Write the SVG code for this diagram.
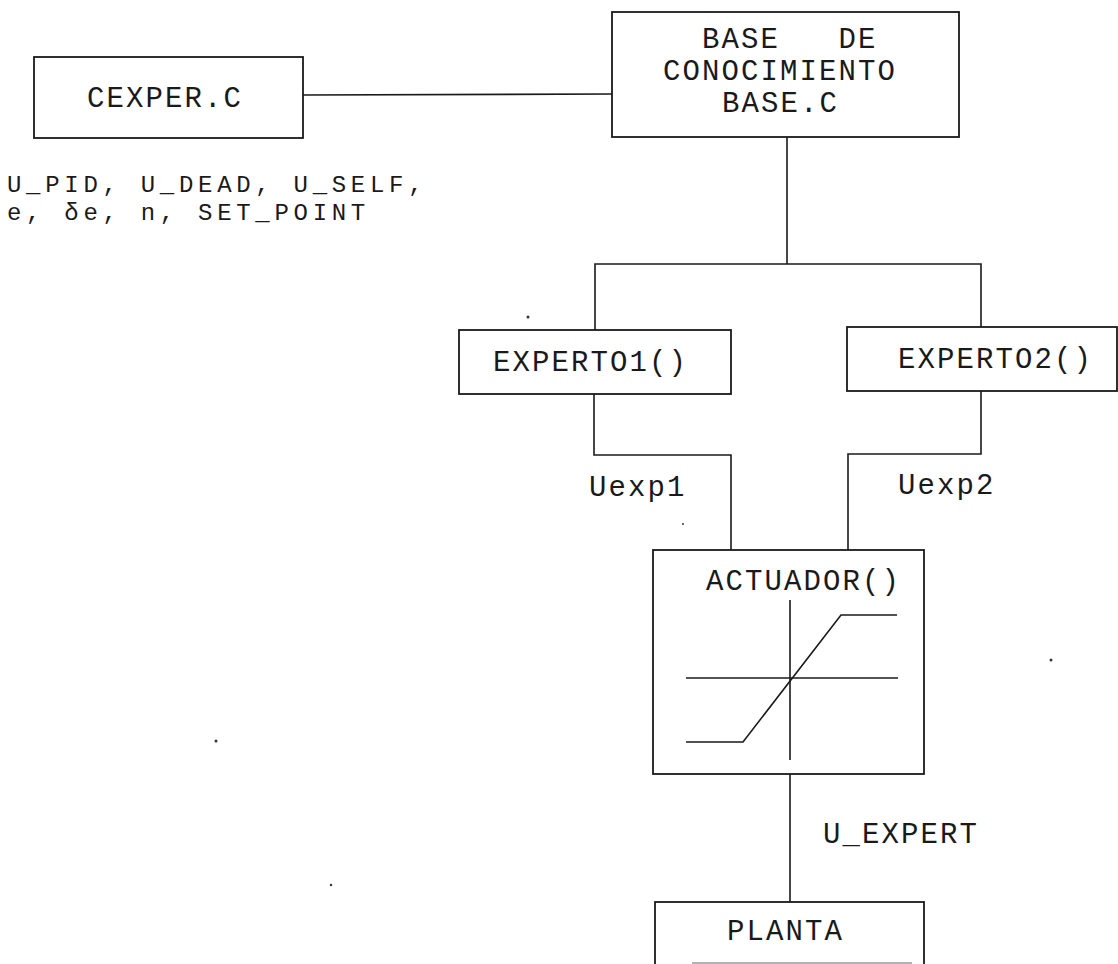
<svg xmlns="http://www.w3.org/2000/svg" width="1118" height="964" viewBox="0 0 1118 964">
<style>
.box{fill:none;stroke:#1a1a1a;stroke-width:1.8}
.ln{fill:none;stroke:#1a1a1a;stroke-width:1.6}
.t{font-family:"Liberation Mono","DejaVu Sans Mono",monospace;font-size:29px;letter-spacing:2.1px;fill:#1a1a1a}
.v{font-size:24px;letter-spacing:4.7px}
.sp{fill:#333}
</style>
<rect width="1118" height="964" fill="#ffffff"/>
<g id="connectors">
<polyline class="ln" points="303,95 612,94"/>
<polyline class="ln" points="787,137 787,264"/>
<polyline class="ln" points="595,330 595,264 981,264 981,327"/>
<polyline class="ln" points="594,394 594,455 731,455 731,550"/>
<polyline class="ln" points="981,391 981,454 848,454 848,550"/>
<polyline class="ln" points="790,774 790,902"/>
</g>
<g id="cexper">
<rect class="box" x="34" y="57" width="269" height="81"/>
<text class="t" x="87" y="107">CEXPER.C</text>
</g>
<g id="vars">
<text class="t v" x="7" y="192">U_PID, U_DEAD, U_SELF,</text>
<text class="t v" x="7" y="220">e, δe, n, SET_POINT</text>
</g>
<g id="base">
<rect class="box" x="612" y="12" width="347" height="125"/>
<text class="t" x="702" y="48" xml:space="preserve">BASE   DE</text>
<text class="t" x="663" y="80">CONOCIMIENTO</text>
<text class="t" x="722" y="112">BASE.C</text>
</g>
<g id="experto1">
<rect class="box" x="459" y="330" width="272" height="64"/>
<text class="t" x="493" y="371">EXPERTO1()</text>
</g>
<g id="experto2">
<rect class="box" x="847" y="327" width="270" height="64"/>
<text class="t" x="898" y="368">EXPERTO2()</text>
</g>
<g id="labels">
<text class="t" x="589" y="496">Uexp1</text>
<text class="t" x="898" y="494">Uexp2</text>
<text class="t" x="823" y="843">U_EXPERT</text>
</g>
<g id="actuador">
<rect class="box" x="653" y="550" width="271" height="224"/>
<text class="t" x="706" y="590">ACTUADOR()</text>
<line class="ln" x1="790" y1="600" x2="790" y2="760"/>
<line class="ln" x1="686" y1="678" x2="898" y2="678"/>
<polyline class="ln" points="686,742 743,742 841,615 897,615"/>
</g>
<g id="planta">
<rect class="box" x="655" y="902" width="269" height="80"/>
<text class="t" x="727" y="940">PLANTA</text>
<line x1="692" y1="963" x2="912" y2="963" stroke="#999" stroke-width="1.5"/>
</g>
<g id="specks">
<circle class="sp" cx="528" cy="317" r="1.5"/>
<circle class="sp" cx="683" cy="524" r="1"/>
<circle class="sp" cx="1051" cy="660" r="1.5"/>
<circle class="sp" cx="216" cy="741" r="1.5"/>
<circle class="sp" cx="331" cy="885" r="1.2"/>
</g>
</svg>
